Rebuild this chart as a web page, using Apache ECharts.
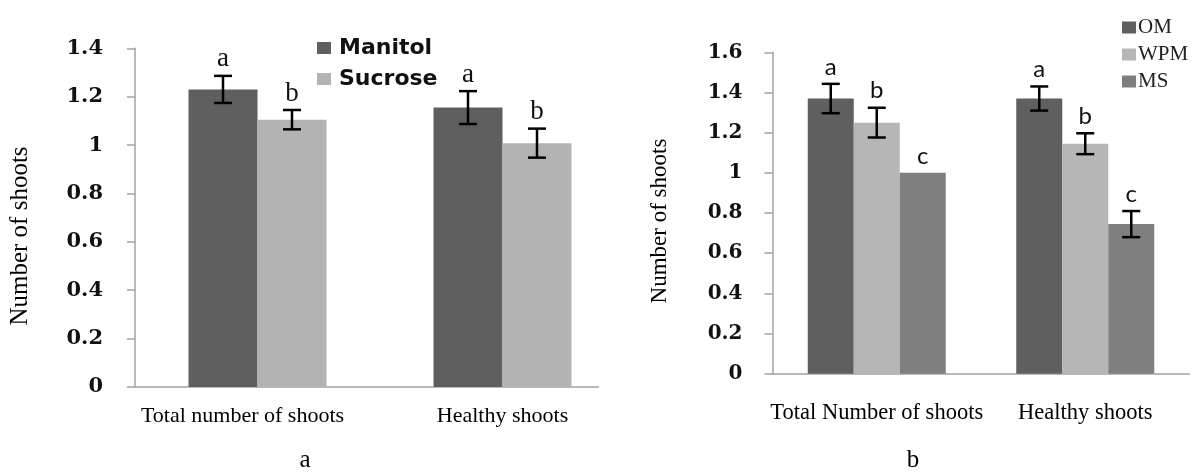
<!DOCTYPE html>
<html>
<head>
<meta charset="utf-8">
<script src="https://cdn.jsdelivr.net/npm/echarts@6/dist/echarts.min.js"></script>
<style>
  html, body { margin: 0; padding: 0; background: #ffffff; }
  #wrapA { position: absolute; left: 0; top: 0; width: 599px; height: 473px; overflow: hidden; }
  #chartA { position: absolute; left: 0; top: 0; width: 1201px; height: 473px; }
  #chartB { position: absolute; left: 0; top: 0; width: 1201px; height: 473px; }
</style>
</head>
<body>
<div id="wrapA"><div id="chartA"></div></div>
<div id="chartB"></div>
<script>
// ---- Panel a data ----
const categoriesA = ['Total number of shoots', 'Healthy shoots'];
const manitol = [1.23, 1.155];
const manitolErr = [0.056, 0.068];
const manitolLetters = ['a', 'a'];
const sucrose = [1.105, 1.008];
const sucroseErr = [0.04, 0.06];
const sucroseLetters = ['b', 'b'];
const ticksA = { min: 0, max: 1.4, interval: 0.2 };

// ---- Panel b data ----
const categoriesB = ['Total Number of shoots', 'Healthy shoots'];
const om = [1.37, 1.37];
const omErr = [0.073, 0.06];
const omLetters = ['a', 'a'];
const wpm = [1.25, 1.145];
const wpmErr = [0.074, 0.052];
const wpmLetters = ['b', 'b'];
const ms = [1.0, 0.745];
const msErr = [0, 0.065];
const msLetters = ['c', 'c'];
const ticksB = { min: 0, max: 1.6, interval: 0.2 };

const AXIS_GRAY = '#a3a3a3';

function errSeries(vals, errs, letters, idx, n, barW, font, gap) {
  return {
    type: 'custom',
    name: 'err' + idx,
    z: 10,
    silent: true,
    data: vals.map((v, i) => [i, v, errs[i]]),
    renderItem: function (params, api) {
      const c = api.value(0), v = api.value(1), e = api.value(2);
      const off = (idx - (n - 1) / 2) * barW;
      const pTop = api.coord([c, v + e]);
      const pBot = api.coord([c, v - e]);
      const x = pTop[0] + off;
      const children = [];
      const ls = { stroke: '#000', lineWidth: 2.5 };
      if (e > 0) {
        children.push({ type: 'line', shape: { x1: x, y1: pTop[1], x2: x, y2: pBot[1] }, style: ls });
        children.push({ type: 'line', shape: { x1: x - 9, y1: pTop[1], x2: x + 9, y2: pTop[1] }, style: ls });
        children.push({ type: 'line', shape: { x1: x - 9, y1: pBot[1], x2: x + 9, y2: pBot[1] }, style: ls });
      }
      children.push({
        type: 'text',
        style: {
          text: letters[params.dataIndex], x: x, y: pTop[1] - gap,
          align: 'center', verticalAlign: 'bottom',
          font: font, fill: '#111'
        }
      });
      return { type: 'group', children: children };
    }
  };
}

function yFmt(v) { return String(+v.toFixed(1)); }

// ---------------- Chart A ----------------
const chartA = echarts.init(document.getElementById('chartA'), null, { renderer: 'canvas' });
chartA.setOption({
  animation: false,
  backgroundColor: 'transparent',
  grid: { left: 135, top: 48.3, width: 490, height: 338.7, containLabel: false },
  legend: {
    data: ['Manitol', 'Sucrose'],
    orient: 'vertical', left: 312, top: 32,
    itemWidth: 14, itemHeight: 12, itemGap: 9, icon: 'rect',
    textStyle: { fontFamily: 'DejaVu Sans', fontWeight: 'bold', fontSize: 22, color: '#111', padding: [0, 0, 0, 3] }
  },
  xAxis: {
    type: 'category', data: categoriesA,
    axisLine: { lineStyle: { color: AXIS_GRAY, width: 1.5 } },
    axisTick: { length: 8, lineStyle: { color: AXIS_GRAY, width: 1.5 } },
    axisLabel: {
      interval: 0, margin: 18, color: '#000', fontFamily: 'Liberation Serif', fontSize: 22,
      formatter: function (v, i) { return i === 0 ? '{s|' + v + '}' : v; },
      rich: { s: { fontFamily: 'Liberation Serif', fontSize: 22, color: '#000', padding: [0, 30, 0, 0] } }
    }
  },
  yAxis: {
    type: 'value', min: ticksA.min, max: ticksA.max, interval: ticksA.interval,
    splitLine: { show: false },
    axisLine: { show: true, lineStyle: { color: AXIS_GRAY, width: 1.5 } },
    axisTick: { show: true, length: 8, lineStyle: { color: AXIS_GRAY, width: 1.5 } },
    axisLabel: { margin: 32, color: '#111', fontFamily: 'DejaVu Serif', fontWeight: 'bold', fontSize: 21, formatter: yFmt }
  },
  graphic: [
    { type: 'text', x: 20, y: 236, rotation: Math.PI / 2,
      style: { text: 'Number of shoots', font: '25px "Liberation Serif"', fill: '#000', align: 'center', verticalAlign: 'middle' } }
  ],
  series: [
    { type: 'bar', name: 'Manitol', data: manitol, barWidth: 69, barGap: '0%', itemStyle: { color: '#5f5f5f' } },
    { type: 'bar', name: 'Sucrose', data: sucrose, barWidth: 69, barGap: '0%', itemStyle: { color: '#b3b3b3' } },
    errSeries(manitol, manitolErr, manitolLetters, 0, 2, 69, '27px "Liberation Serif"', 3),
    errSeries(sucrose, sucroseErr, sucroseLetters, 1, 2, 69, '27px "Liberation Serif"', 3)
  ]
});

// ---------------- Chart B ----------------
const chartB = echarts.init(document.getElementById('chartB'), null, { renderer: 'canvas' });
chartB.setOption({
  animation: false,
  backgroundColor: 'transparent',
  grid: { left: 772.5, top: 52.3, width: 417, height: 321.5, containLabel: false },
  legend: {
    data: ['OM', 'WPM', 'MS'],
    orient: 'vertical', left: 1117, top: 12,
    itemWidth: 14, itemHeight: 12, itemGap: 6, icon: 'rect',
    textStyle: { fontFamily: 'Liberation Serif', fontSize: 21, color: '#222', padding: [0, 0, 0, -3] }
  },
  xAxis: {
    type: 'category', data: categoriesB,
    axisLine: { lineStyle: { color: AXIS_GRAY, width: 1.5 } },
    axisTick: { length: 8, lineStyle: { color: AXIS_GRAY, width: 1.5 } },
    axisLabel: { interval: 0, margin: 28, color: '#000', fontFamily: 'Liberation Serif', fontSize: 22.5 }
  },
  yAxis: {
    type: 'value', min: ticksB.min, max: ticksB.max, interval: ticksB.interval,
    splitLine: { show: false },
    axisLine: { show: true, lineStyle: { color: AXIS_GRAY, width: 1.5 } },
    axisTick: { show: true, length: 8, lineStyle: { color: AXIS_GRAY, width: 1.5 } },
    axisLabel: { margin: 30, color: '#111', fontFamily: 'DejaVu Serif', fontWeight: 'bold', fontSize: 20, formatter: yFmt }
  },
  graphic: [
    { type: 'text', x: 660, y: 221, rotation: Math.PI / 2,
      style: { text: 'Number of shoots', font: '23px "Liberation Serif"', fill: '#000', align: 'center', verticalAlign: 'middle' } },
    { type: 'text', x: 305, y: 460,
      style: { text: 'a', font: '25px "Liberation Serif"', fill: '#000', align: 'center', verticalAlign: 'middle' } },
    { type: 'text', x: 913, y: 460,
      style: { text: 'b', font: '25px "Liberation Serif"', fill: '#000', align: 'center', verticalAlign: 'middle' } }
  ],
  series: [
    { type: 'bar', name: 'OM', data: om, barWidth: 46, barGap: '0%', itemStyle: { color: '#5f5f5f' } },
    { type: 'bar', name: 'WPM', data: wpm, barWidth: 46, barGap: '0%', itemStyle: { color: '#b6b6b6' } },
    { type: 'bar', name: 'MS', data: ms, barWidth: 46, barGap: '0%', itemStyle: { color: '#7f7f7f' } },
    errSeries(om, omErr, omLetters, 0, 3, 46, '24px Lato', 5),
    errSeries(wpm, wpmErr, wpmLetters, 1, 3, 46, '24px Lato', 5),
    errSeries(ms, msErr, msLetters, 2, 3, 46, '24px Lato', 5)
  ]
});
</script>
</body>
</html>
